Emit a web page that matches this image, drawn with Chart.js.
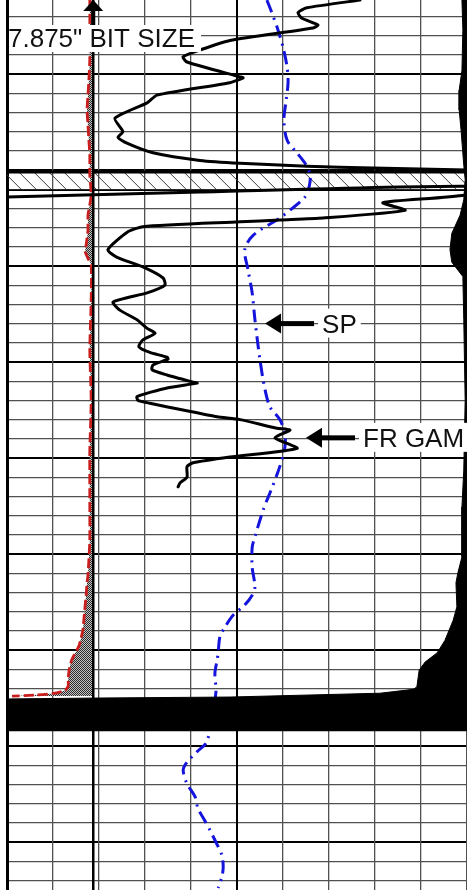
<!DOCTYPE html>
<html>
<head>
<meta charset="utf-8">
<script src="https://cdn.jsdelivr.net/npm/chart.js@4/dist/chart.umd.min.js"></script>
<style>
  html, body { margin: 0; padding: 0; background: #fff; }
  #wrap { position: relative; width: 467px; height: 890px; }
</style>
</head>
<body>
<div id="wrap"><canvas id="log"></canvas></div>
<script>
// Depth window of the track (ft); 2 ft per thin line, heavy line every 10 ft
const DEPTH_TOP = 5002.29;
const DEPTH_BOTTOM = 5095;
const BIT_SIZE = 7.875;            // in
const BAND_TOP = 5020.2;           // hatched interval
const BAND_BOTTOM = 5022.1;

// Caliper (in)
const calDepth = [5002.3, 5008.5, 5010.6, 5012.2, 5013.75, 5015.3, 5016.9, 5018.4, 5020.5, 5022.6,
  5023.6, 5024.7, 5026.25, 5027.8, 5028.5, 5029.2, 5029.9, 5033.5, 5038.75, 5044.0,
  5049.2, 5054.4, 5058.5, 5060.6, 5062.2, 5063.0, 5064.3, 5065.3, 5066.9, 5067.9,
  5068.75, 5069.5, 5070.0, 5071.0, 5072.1, 5073.1, 5073.75, 5074.2, 5074.5, 5074.7, 5074.8];
const calIn = [7.80, 7.80, 7.78, 7.76, 7.74, 7.76, 7.78, 7.80, 7.80, 7.83,
  7.80, 7.76, 7.76, 7.72, 7.70, 7.76, 7.83, 7.83, 7.80, 7.83,
  7.80, 7.80, 7.80, 7.78, 7.76, 7.74, 7.72, 7.70, 7.67, 7.65,
  7.61, 7.57, 7.52, 7.41, 7.35, 7.33, 7.33, 7.26, 7.04, 6.61, 6.11];

// Gamma ray (API); null marks the break across the hatched interval
const grDepth = [5002.3, 5003.1, 5003.6, 5004.2, 5004.9, 5005.2, 5006.5, 5007.5, 5008.2, 5008.75,
  5010.3, 5010.4, 5010.9, 5012.2, 5013.0, 5014.6, 5016.0, 5016.6, 5017.2, 5018.2,
  5019.0, 5019.3, 5019.6, 5019.8, 5020.0, 5021.0, 5022.8, 5022.3, 5021.7, 5022.6,
  5023.4, 5024.2, 5025.0, 5025.2, 5025.4, 5025.9, 5026.5, 5028.3, 5029.1, 5030.1,
  5031.25, 5032.0, 5032.8, 5033.75, 5034.6, 5035.6, 5036.5, 5037.0, 5037.7, 5038.4,
  5039.0, 5039.5, 5039.7, 5040.3, 5040.8, 5041.35, 5042.1, 5042.2, 5042.7, 5043.6,
  5044.0, 5044.3, 5045.0, 5045.7, 5046.0, 5046.9, 5047.1, 5047.9, 5049.0, 5049.9,
  5050.5, 5050.9, 5052.0, 5052.6, 5053.0];
const grApi = [115.1, 97.8, 94.9, 96.2, 101.4, 99.8, 72.7, 62.9, 57.4, 58.7,
  76.0, 77.0, 72.7, 48.9, 45.7, 35.2, 37.8, 36.2, 39.1, 47.6,
  62.9, 76.0, 97.8, 119.3, 150, null, 0, 62.9, 150, 149.3,
  122.6, 129.8, 103.0, 89.0, 76.0, 44.3, 39.1, 32.9, 35.9, 44.3,
  50.9, 51.5, 45.7, 34.6, 36.8, 42.4, 45.7, 48.3, 44.3, 43.0,
  46.6, 52.2, 52.5, 47.6, 47.3, 52.2, 60.7, 62.0, 52.2, 42.4,
  42.7, 46.6, 57.4, 68.5, 76.0, 88.0, 92.3, 87.4, 94.6, 72.7,
  60.7, 58.7, 58.7, 56.4, 55.8];

// Spontaneous potential (mV)
const spDepth = [5002.3, 5003.65, 5005.1, 5007.2, 5009.3, 5010.9, 5012.7, 5014.8, 5016.9, 5018.2,
  5019.3, 5020.5, 5021.7, 5022.8, 5024.0, 5025.0, 5026.8, 5028.3, 5030.4, 5032.8,
  5035.6, 5039.8, 5042.9, 5044.7, 5046.0, 5047.4, 5048.9, 5050.9, 5053.6, 5054.4,
  5055.4, 5058.2, 5059.3, 5061.4, 5063.4, 5064.3, 5065.3, 5066.4, 5067.6, 5068.6,
  5070.3, 5071.0, 5072.4, 5074.5, 5079.5, 5080.6, 5081.7, 5082.5, 5083.9, 5085.3,
  5086.5, 5087.6, 5088.75, 5090.0, 5091.35, 5092.6, 5093.65, 5094.8];
const spMv = [-43.5, -42.4, -41.3, -40.0, -39.1, -38.9, -39.3, -39.8, -39.1, -37.0,
  -35.2, -34.1, -34.3, -35.2, -38.0, -40.7, -46.5, -48.3, -47.6, -46.7,
  -46.1, -45.0, -43.9, -42.8, -40.7, -39.6, -39.6, -40.7, -42.8, -43.5,
  -44.3, -46.1, -46.7, -46.7, -46.1, -46.7, -48.3, -50.9, -52.6, -53.7,
  -54.1, -54.3, -54.8, -54.6, -56.5, -58.7, -60.9, -61.7, -60.9, -59.1,
  -58.5, -57.2, -55.9, -54.6, -53.3, -53.0, -53.3, -54.1];

// Resistivity, shaded to the right edge of the track
const RES_MAX = 100;
const resDepth = [5002.3, 5005.4, 5009.6, 5011.7, 5013.75, 5015.8, 5019.5, 5021.0, 5023.1, 5024.7,
  5026.6, 5028.3, 5029.6, 5031.1, 5035.6, 5044.0, 5051.25, 5055.1, 5060.3, 5062.0,
  5063.0, 5065.5, 5066.9, 5069.0, 5070.3, 5071.25, 5072.1, 5073.85, 5074.1, 5074.5,
  5074.9, 5075.0, 5075.1, 5078.5];
const resOhmm = [98.9, 99.1, 98.9, 98.3, 98.3, 98.7, 99.3, 99.6, 99.3, 98.5,
  96.7, 96.3, 96.7, 99.1, 99.3, 99.6, 99.3, 98.9, 98.9, 98.0,
  97.6, 97.8, 97.0, 95.2, 93.5, 90.9, 89.6, 89.1, 88.3, 81.1,
  48.5, 20.2, 0, 0];

// Curve call-outs
const SP_NOTE = { depth: 5036.0, value: -43.9, text: 'SP' };
const GR_NOTE = { depth: 5047.9, value: 97.5, text: 'FR GAM' };

const LABEL_FONT = '26px "Liberation Sans", Arial, Helvetica, sans-serif';

function pts(depths, values) {
  return depths.map((d, i) => ({ x: values[i], y: d }));
}

const canvas = document.getElementById('log');

// fine grey dither used for the caliper wash-out shading
function ditherPattern() {
  const c = document.createElement('canvas');
  c.width = 2; c.height = 2;
  const g = c.getContext('2d');
  g.fillStyle = '#c4c4c4'; g.fillRect(0, 0, 2, 2);
  g.fillStyle = '#2a2a2a'; g.fillRect(0, 0, 1, 1); g.fillRect(1, 1, 1, 1);
  return canvas.getContext('2d').createPattern(c, 'repeat');
}

const isHeavyDepth = c => c.tick && Math.abs(c.tick.value % 10) < 1e-6;

// diagonal hatch over the interval where the tools were changed
const hatchInterval = {
  id: 'hatchInterval',
  beforeDatasetsDraw(chart) {
    const { ctx, chartArea: a, scales: { y } } = chart;
    const top = y.getPixelForValue(BAND_TOP);
    const bot = y.getPixelForValue(BAND_BOTTOM);
    const h = bot - top;
    ctx.save();
    ctx.beginPath();
    ctx.rect(a.left, top, a.right - a.left, h);
    ctx.clip();
    ctx.beginPath();
    ctx.strokeStyle = '#3a3a3a';
    ctx.lineWidth = 1;
    for (let x = a.left - h; x < a.right + h; x += 15) {
      ctx.moveTo(x, top);
      ctx.lineTo(x + h, bot);
    }
    ctx.stroke();
    ctx.restore();
    ctx.save();
    ctx.strokeStyle = '#000';
    ctx.lineWidth = 3;
    ctx.beginPath(); ctx.moveTo(a.left, top); ctx.lineTo(a.right, top); ctx.stroke();
    ctx.lineWidth = 1.5;
    ctx.beginPath(); ctx.moveTo(a.left, bot); ctx.lineTo(a.right, bot); ctx.stroke();
    ctx.restore();
  }
};

function leftArrowNote(ctx, tipX, y, text) {
  ctx.fillStyle = '#000';
  ctx.beginPath();
  ctx.moveTo(tipX, y);
  ctx.lineTo(tipX + 16, y - 10);
  ctx.lineTo(tipX + 16, y + 10);
  ctx.closePath();
  ctx.fill();
  ctx.fillRect(tipX + 15, y - 2.5, 34, 5);
  ctx.font = LABEL_FONT;
  const tx = tipX + 57;
  const w = ctx.measureText(text).width;
  ctx.fillStyle = '#fff';
  ctx.fillRect(tx - 4, y - 15, w + 8, 29);
  ctx.fillStyle = '#111';
  ctx.textBaseline = 'alphabetic';
  ctx.fillText(text, tx, y + 9.5);
}

// bit-size header and curve call-outs
const logNotes = {
  id: 'logNotes',
  afterDatasetsDraw(chart) {
    const { ctx, chartArea: a, scales } = chart;
    ctx.save();
    // bit size label
    const bx = scales.xCal.getPixelForValue(BIT_SIZE);
    ctx.fillStyle = '#fff';
    ctx.fillRect(a.left + 2, a.top + 25, 192, 27);
    ctx.fillStyle = '#111';
    ctx.font = LABEL_FONT;
    ctx.textBaseline = 'alphabetic';
    ctx.fillText(BIT_SIZE + '" BIT SIZE', a.left + 1, a.top + 47);
    // up arrow on the bit-size line
    ctx.fillStyle = '#000';
    ctx.beginPath();
    ctx.moveTo(bx, a.top);
    ctx.lineTo(bx - 10, a.top + 11);
    ctx.lineTo(bx + 10, a.top + 11);
    ctx.closePath();
    ctx.fill();
    ctx.fillRect(bx - 2, a.top + 10, 4, 15);
    // curve labels
    leftArrowNote(ctx, scales.xSp.getPixelForValue(SP_NOTE.value), scales.y.getPixelForValue(SP_NOTE.depth), SP_NOTE.text);
    leftArrowNote(ctx, scales.xGr.getPixelForValue(GR_NOTE.value), scales.y.getPixelForValue(GR_NOTE.depth), GR_NOTE.text);
    ctx.restore();
  }
};

new Chart(canvas, {
  type: 'line',
  data: {
    datasets: [
      {
        label: 'RES', data: pts(resDepth, resOhmm), xAxisID: 'xRes', yAxisID: 'y',
        borderColor: '#000', borderWidth: 1, backgroundColor: '#000',
        fill: { value: RES_MAX }, pointRadius: 0, tension: 0
      },
      {
        label: 'FR GAM', data: pts(grDepth, grApi), xAxisID: 'xGr', yAxisID: 'y',
        borderColor: '#000', borderWidth: 3, borderJoinStyle: 'round', borderCapStyle: 'round',
        fill: false, pointRadius: 0, tension: 0.2
      },
      {
        label: 'SP', data: pts(spDepth, spMv), xAxisID: 'xSp', yAxisID: 'y',
        borderColor: '#1414dc', borderWidth: 3, borderDash: [13, 6, 2, 6],
        fill: false, pointRadius: 0, tension: 0.3
      },
      {
        label: 'BIT SIZE',
        data: [{ x: BIT_SIZE, y: DEPTH_TOP }, { x: BIT_SIZE, y: DEPTH_BOTTOM }],
        xAxisID: 'xCal', yAxisID: 'y',
        borderColor: '#000', borderWidth: 2.5, fill: false, pointRadius: 0
      },
      {
        label: 'CALI', data: pts(calDepth, calIn), xAxisID: 'xCal', yAxisID: 'y',
        borderColor: '#c81e1e', borderWidth: 2.8, borderDash: [10, 4],
        backgroundColor: ditherPattern(), fill: { value: BIT_SIZE },
        pointRadius: 0, tension: 0.2
      }
    ]
  },
  options: {
    indexAxis: 'y',
    responsive: true,
    maintainAspectRatio: false,
    animation: false,
    events: [],
    layout: { padding: { left: 7, right: 0, top: 0, bottom: 0 } },
    plugins: { legend: { display: false }, tooltip: { enabled: false }, title: { display: false } },
    scales: {
      y: {
        type: 'linear', axis: 'y', position: 'left', reverse: true,
        min: DEPTH_TOP, max: DEPTH_BOTTOM,
        ticks: { display: false, stepSize: 2, includeBounds: false },
        border: { display: false },
        grid: {
          drawTicks: false,
          color: c => isHeavyDepth(c) ? '#000' : '#505050',
          lineWidth: c => isHeavyDepth(c) ? 2 : 1.2
        }
      },
      xCal: {
        type: 'linear', axis: 'x', position: 'bottom', min: 6, max: 16,
        ticks: { display: false, stepSize: 1 },
        border: { display: false },
        grid: {
          drawTicks: false,
          color: c => (c.tick && (c.tick.value === 6 || c.tick.value === 11)) ? '#000' : '#505050',
          lineWidth: c => !c.tick ? 1.3 : (c.tick.value === 6 ? 3 : (c.tick.value === 11 ? 2 : 1.3))
        }
      },
      xGr: { type: 'linear', axis: 'x', display: false, min: 0, max: 150 },
      xSp: { type: 'linear', axis: 'x', display: false, min: -100, max: 0 },
      xRes: { type: 'linear', axis: 'x', display: false, min: 0, max: RES_MAX }
    }
  },
  plugins: [hatchInterval, logNotes]
});
</script>
</body>
</html>
